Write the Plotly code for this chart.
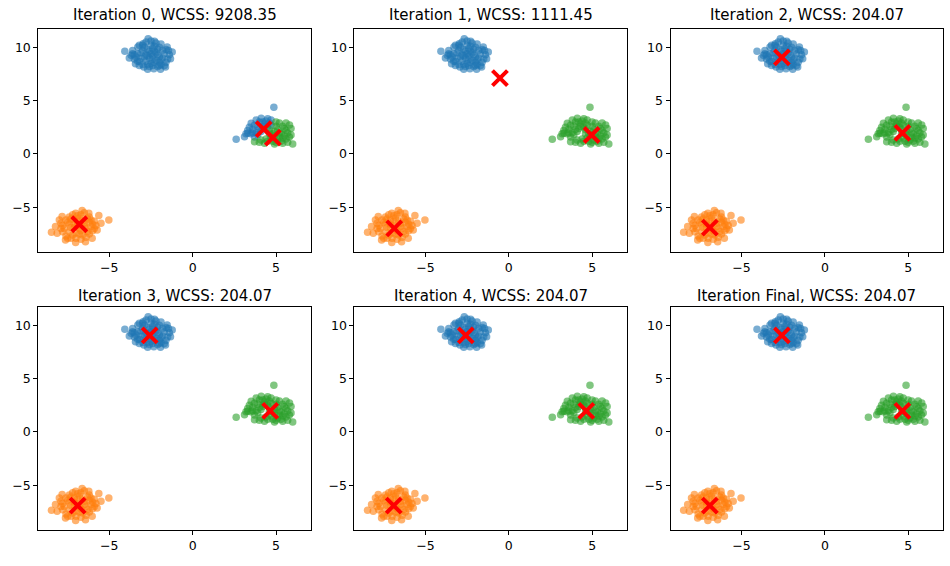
import plotly.graph_objects as go

# ---- data ----
iteration_labels = ["0", "1", "2", "3", "4", "Final"]
wcss_values = [9208.35, 1111.45, 204.07, 204.07, 204.07, 204.07]

# top cluster (always blue)
blue_x = [-4.07, -3.69, -2.67, -2.29, -2.97, -3.29, -1.23, -1.33, -1.53, -2.33, -1.63, -2.93, -3.43, -1.93,
          -3.6, -3.5, -2.5, -1.9, -1.4, -1.6, -2.1, -2.7, -3.2, -3.8,
          -3.3, -3.1, -3.0, -2.8, -2.8, -2.6, -2.6, -2.5, -2.4, -2.4, -2.2, -2.2, -2.0, -2.0, -1.8, -1.8,
          -3.2, -2.9, -2.3, -2.7, -1.9, -3.5, -2.1, -2.9, -2.5, -2.3,
          -3.4, -3.0, -2.7, -2.5, -2.1, -1.7, -1.6, -2.0, -3.1, -2.6, -2.3, -1.9, -2.8, -3.6, -2.4,
          -1.5, -3.3, -2.2, -1.7, -3.0, -2.7, -2.4, -2.0, -3.2, -1.45]
blue_y = [9.63, 9.25, 10.81, 10.56, 10.34, 10.03, 9.56, 8.93, 10.03, 8.0, 8.15, 8.15, 8.46, 7.94,
          9.7, 8.9, 10.6, 10.3, 9.3, 8.6, 8.2, 7.95, 8.3, 9.0,
          9.4, 9.0, 9.7, 9.3, 8.7, 9.0, 9.6, 8.5, 9.2, 9.9, 8.8, 9.5, 9.1, 8.6, 9.7, 9.0,
          8.7, 10.0, 10.1, 8.4, 8.4, 9.3, 9.8, 9.1, 9.4, 8.6,
          9.1, 8.4, 9.8, 10.2, 9.3, 9.4, 9.8, 10.0, 9.5, 8.2, 9.6, 8.8, 10.5, 9.4, 8.3,
          8.9, 8.7, 10.4, 8.3, 10.2, 9.2, 8.9, 8.3, 10.2, 9.7]

# right cluster, part labelled blue at iteration 0
green_a_x = [4.87, 2.61, 3.31, 3.51, 4.11, 3.81, 4.70, 3.11, 3.71, 3.6, 3.9, 4.1, 4.3, 4.0, 3.4, 4.4, 3.8, 4.5, 4.2, 3.5,
             3.7, 4.2, 3.3, 4.0, 3.6, 4.5, 3.9, 4.3, 3.2, 4.6, 4.7]
green_a_y = [4.38, 1.38, 1.94, 2.88, 3.35, 3.19, 3.19, 1.62, 1.6, 2.3, 2.6, 2.1, 2.8, 3.0, 2.5, 3.1, 2.0, 2.5, 2.4, 1.9,
             2.7, 3.0, 2.2, 2.3, 2.0, 3.3, 1.8, 2.6, 1.9, 2.9, 2.7]
# right cluster, part labelled green at iteration 0
green_b_x = [5.81, 5.90, 6.0, 5.40, 4.31, 3.71, 4.91, 5.2, 5.5, 5.6, 5.1, 4.7, 4.9, 5.3, 4.6, 4.4, 5.0, 5.7, 4.8,
             5.4, 4.1, 5.2, 4.9, 5.5, 4.6, 5.0,
             5.1, 5.6, 5.8, 5.3, 4.5, 4.0, 5.2, 4.8, 5.6, 5.0, 5.4, 5.9, 5.7]
green_b_y = [2.72, 1.78, 0.94, 1.0, 1.0, 1.15, 0.94, 2.9, 2.4, 1.4, 1.3, 1.5, 2.1, 1.9, 1.9, 1.4, 2.6, 2.0, 1.2,
             2.6, 1.3, 1.6, 1.7, 1.7, 2.3, 3.0,
             2.3, 2.9, 1.6, 1.2, 1.2, 1.1, 2.0, 1.9, 2.2, 1.1, 1.5, 2.4, 1.1]

# bottom-left cluster (always orange)
orange_x = [-5.03, -5.63, -8.47, -8.23, -7.83, -6.63, -7.02, -6.23, -7.63, -7.02, -6.43, -6.03, -5.73, -8.13,
            -6.5, -5.9, -5.8, -7.4, -7.9, -7.8, -7.3, -6.7, -6.2, -7.6,
            -7.5, -7.3, -7.1, -7.0, -6.9, -6.8, -6.7, -6.5, -6.4, -6.3, -6.1, -7.2, -7.7, -6.6, -6.9, -6.2,
            -7.4, -6.8, -6.0, -7.1,
            -7.6, -7.2, -6.6, -6.2, -5.9, -6.4, -7.0, -7.9, -8.0, -7.4, -6.9, -6.5, -6.1, -7.1, -6.7,
            -5.5, -7.5, -6.3, -7.8, -6.0, -6.8, -7.3]
orange_y = [-6.19, -5.78, -7.34, -6.81, -5.87, -5.31, -5.56, -5.56, -8.06, -8.31, -8.22, -7.9, -7.12, -7.43,
            -5.5, -6.3, -6.7, -5.9, -6.5, -7.3, -7.9, -8.0, -7.5, -7.7,
            -6.4, -6.9, -6.2, -7.4, -6.7, -6.0, -7.2, -6.5, -7.0, -6.1, -6.8, -7.6, -7.0, -7.6, -5.8, -6.4,
            -6.6, -7.0, -7.2, -6.9,
            -6.2, -5.7, -6.3, -5.9, -7.0, -7.8, -7.9, -7.0, -6.2, -7.3, -6.3, -6.8, -6.2, -6.6, -5.7,
            -6.5, -7.9, -7.3, -6.7, -6.6, -7.5, -6.1]

# centroids per iteration: order blue, orange, green
centroid_x = [[4.26, -6.80, 4.81], [-0.53, -6.87, 4.97], [-2.58, -6.90, 4.65],
              [-2.58, -6.90, 4.65], [-2.58, -6.90, 4.65], [-2.58, -6.90, 4.65]]
centroid_y = [[2.33, -6.59, 1.54], [7.12, -6.97, 1.78], [9.05, -6.90, 1.97],
              [9.05, -6.90, 1.97], [9.05, -6.90, 1.97], [9.05, -6.90, 1.97]]

# ---- layout ----
W, H = 950, 566
col_left = [38.3, 354.4, 670.5]
col_w = 272.4
row_top = [29.3, 307.3]
row_h = 223.0
title_center = [15.5, 296.0]

BLUE, ORANGE, GREEN = "#1f77b4", "#ff7f0e", "#2ca02c"
FONT = "DejaVu Sans"

fig = go.Figure()
layout = dict(width=W, height=H, margin=dict(l=0, r=0, t=0, b=0),
              paper_bgcolor="white", plot_bgcolor="white", showlegend=False,
              font=dict(family=FONT, color="black"))
annotations = []

for i in range(6):
    r, c = divmod(i, 3)
    n = i + 1
    xa = "x" if n == 1 else f"x{n}"
    ya = "y" if n == 1 else f"y{n}"
    if i == 0:
        groups = [(blue_x + green_a_x, blue_y + green_a_y, BLUE),
                  (orange_x, orange_y, ORANGE),
                  (green_b_x, green_b_y, GREEN)]
    else:
        groups = [(blue_x, blue_y, BLUE),
                  (orange_x, orange_y, ORANGE),
                  (green_a_x + green_b_x, green_a_y + green_b_y, GREEN)]
    for gx, gy, col in groups:
        fig.add_trace(go.Scatter(x=gx, y=gy, mode="markers", xaxis=xa, yaxis=ya,
                                 marker=dict(size=7.5, color=col, opacity=0.6, line=dict(width=0)),
                                 hoverinfo="skip"))
    fig.add_trace(go.Scatter(x=centroid_x[i], y=centroid_y[i], mode="markers", xaxis=xa, yaxis=ya,
                             marker=dict(symbol="x-thin", size=15, color="red",
                                         line=dict(width=4, color="red")),
                             hoverinfo="skip"))

    x0 = col_left[c] / W
    x1 = (col_left[c] + col_w) / W
    y1 = 1 - row_top[r] / H
    y0 = 1 - (row_top[r] + row_h) / H
    axis_common = dict(showline=True, linecolor="black", linewidth=1, mirror=True,
                       ticks="outside", ticklen=4, tickwidth=1, tickcolor="black",
                       showgrid=False, zeroline=False,
                       tickfont=dict(family=FONT, size=12.5, color="black"))
    layout["xaxis" if n == 1 else f"xaxis{n}"] = dict(
        domain=[x0, x1], range=[-9.26, 7.08], tickvals=[-5, 0, 5],
        ticktext=["\u22125", "0", "5"], anchor=ya, **axis_common)
    layout["yaxis" if n == 1 else f"yaxis{n}"] = dict(
        domain=[y0, y1], range=[-9.22, 11.69], tickvals=[-5, 0, 5, 10],
        ticktext=["\u22125", "0", "5", "10"], anchor=xa, **axis_common)
    annotations.append(dict(
        text=f"Iteration {iteration_labels[i]}, WCSS: {wcss_values[i]:.2f}",
        x=(x0 + x1) / 2, y=1 - title_center[r] / H, xref="paper", yref="paper",
        xanchor="center", yanchor="middle", showarrow=False,
        font=dict(family=FONT, size=15, color="black")))

layout["annotations"] = annotations
fig.update_layout(**layout)
fig.write_html("out.html", config={"displayModeBar": False},
               post_script="document.body.style.margin='0px';document.body.style.overflow='hidden';")
